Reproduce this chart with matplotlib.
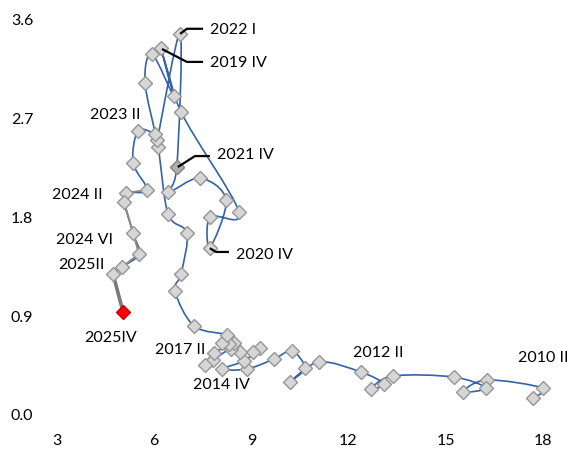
import numpy as np
import matplotlib.pyplot as plt
from matplotlib.path import Path
from matplotlib.patches import PathPatch

plt.rcParams['font.family'] = ['Lato', 'DejaVu Sans']

# unemployment rate (x) and vacancy rate (y), quarterly from 2010 II
unemp = [17.69, 18.00, 16.27, 15.53, 16.24, 15.25, 13.37, 12.69, 13.09, 12.38,
         11.09, 10.19, 10.65, 10.25, 9.70, 8.86, 8.09, 8.77, 9.27, 9.05,
         8.65, 8.37, 7.81, 7.57, 7.85, 8.46, 8.31, 8.09, 8.25, 7.23,
         6.64, 6.83, 7.01, 6.43, 6.12, 5.72, 5.93, 6.61, 6.21, 6.83,
         8.62, 7.72, 7.72, 8.22, 7.41, 6.43, 6.70, 6.80, 6.09, 6.02,
         5.50, 5.35, 5.78, 5.13, 5.07, 5.35, 5.53, 5.01, 4.73, 5.04]
vac = [0.155, 0.246, 0.319, 0.210, 0.246, 0.346, 0.356, 0.237, 0.283, 0.392,
       0.483, 0.301, 0.428, 0.583, 0.510, 0.419, 0.419, 0.492, 0.611, 0.574,
       0.574, 0.602, 0.501, 0.456, 0.565, 0.656, 0.647, 0.656, 0.729, 0.811,
       1.130, 1.285, 1.659, 1.832, 2.443, 3.026, 3.291, 2.908, 3.345, 2.762,
       1.850, 1.805, 1.522, 1.960, 2.160, 2.033, 2.261, 3.473, 2.507, 2.562,
       2.589, 2.297, 2.051, 2.024, 1.942, 1.659, 1.468, 1.349, 1.285, 0.939]

gray_start = 52   # recent quarters also joined by a grey line
dark_pts = [46]   # 2021 IV marker is darker

# quarter labels: text, anchor (x, y), alignment, leader line points
labels = [
    ("2022 I", 7.72, 3.51, 'left', [(6.80, 3.473), (7.01, 3.52), (7.51, 3.52)]),
    ("2019 IV", 7.72, 3.21, 'left', [(6.24, 3.336), (7.01, 3.218), (7.51, 3.218)]),
    ("2021 IV", 7.94, 2.37, 'left', [(6.73, 2.26), (7.26, 2.36), (7.72, 2.36)]),
    ("2020 IV", 8.52, 1.46, 'left', [(7.72, 1.52), (7.91, 1.486), (8.31, 1.486)]),
    ("2023 II", 5.59, 2.735, 'right', None),
    ("2024 II", 4.42, 2.005, 'right', None),
    ("2024 VI", 4.73, 1.595, 'right', None),
    ("2025II", 4.48, 1.367, 'right', None),
    ("2025IV", 4.64, 0.70, 'center', None),
    ("2017 II", 7.57, 0.593, 'right', None),
    ("2014 IV", 8.09, 0.273, 'center', None),
    ("2012 II", 12.91, 0.565, 'center', None),
    ("2010 II", 18.0, 0.52, 'center', None),
]

fig = plt.figure(figsize=(5.74, 4.53), dpi=100)
ax = fig.add_axes([57/574, 38/453, (559-57)/574, (415-20)/453])

# smooth blue line through the quarters (Catmull-Rom as bezier segments)
pts = np.column_stack([unemp[:-1], vac[:-1]])
n = len(pts)
verts = [pts[0]]
codes = [Path.MOVETO]
for i in range(n - 1):
    p0 = pts[max(i - 1, 0)]
    p1 = pts[i]
    p2 = pts[i + 1]
    p3 = pts[min(i + 2, n - 1)]
    verts += [p1 + (p2 - p0) / 6, p2 - (p3 - p1) / 6, p2]
    codes += [Path.CURVE4] * 3
ax.add_patch(PathPatch(Path(verts, codes), facecolor='none',
                       edgecolor='#3462a6', lw=1.2, zorder=2))

ax.plot(unemp[gray_start:-1], vac[gray_start:-1], color='#8a8a8a', lw=1.4, zorder=3)
ax.plot(unemp[-2:], vac[-2:], color='#7a7a7a', lw=2.6, zorder=3)

ax.plot(unemp[:-1], vac[:-1], 'D', ms=7.5, mfc='#d6d6d6', mec='#959595',
        mew=1.0, zorder=4, clip_on=False)
for i in dark_pts:
    ax.plot(unemp[i], vac[i], 'D', ms=7.5, mfc='#b0b0b0', mec='#8a8a8a', mew=1.0, zorder=5)
ax.plot(unemp[-1], vac[-1], 'D', ms=7.5, mfc='#ff0000', mec='#d00000',
        mew=1.0, zorder=5, clip_on=False)

for txt, tx, ty, ha, lead in labels:
    ax.text(tx, ty, txt, ha=ha, va='center', fontsize=11.5, color='#000000', zorder=6)
    if lead:
        lx, ly = zip(*lead)
        ax.plot(lx, ly, color='black', lw=1.6, zorder=6, solid_capstyle='butt')

ax.set_xlim(3, 18.5)
ax.set_ylim(0, 3.6)
ax.set_xticks([3, 6, 9, 12, 15, 18])
ax.set_yticks([0.0, 0.9, 1.8, 2.7, 3.6])
ax.set_yticklabels(['0.0', '0.9', '1.8', '2.7', '3.6'])
ax.tick_params(length=0, labelsize=11.5, labelcolor='#000000')
ax.tick_params(axis='y', pad=17)
ax.tick_params(axis='x', pad=14)
for s in ax.spines.values():
    s.set_visible(False)

fig.savefig('out.png', dpi=100)
